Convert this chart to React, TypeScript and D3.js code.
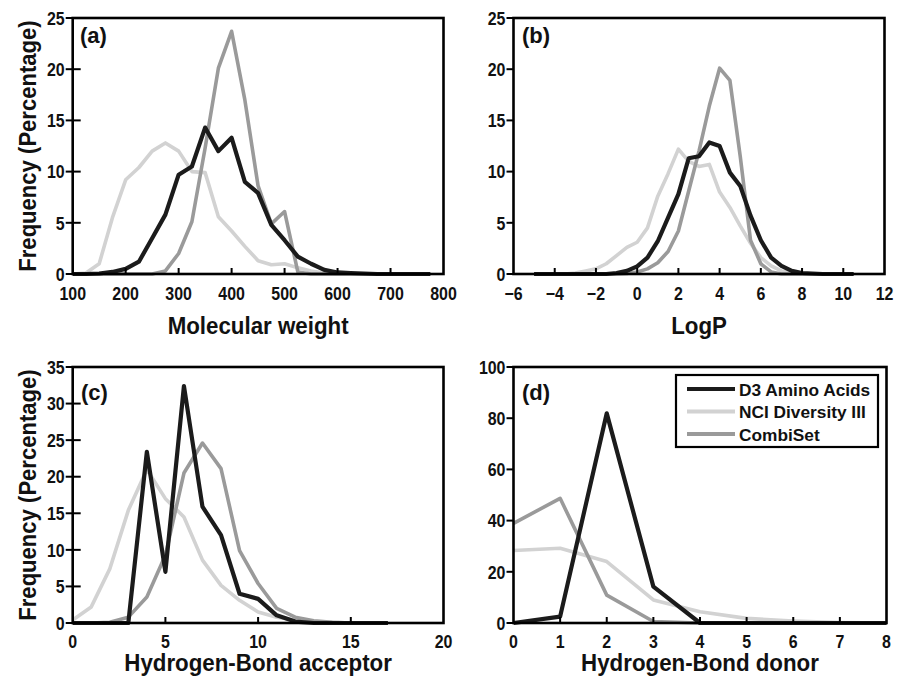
import React from "react";
import * as d3 from "d3";

// ---------- DATA ----------
const seriesNames = ["D3 Amino Acids", "NCI Diversity III", "CombiSet"];

const mwX = [100, 125, 150, 175, 200, 225, 250, 275, 300, 325, 350, 375, 400, 425, 450, 475, 500, 525, 550, 575, 600, 625, 650, 675, 700, 725, 750, 775];
const mwD3 = [0, 0, 0.05, 0.2, 0.5, 1.2, 3.5, 5.8, 9.7, 10.5, 14.3, 12.0, 13.3, 9.0, 7.9, 4.8, 3.3, 1.7, 1.0, 0.4, 0.15, 0.1, 0.05, 0, 0, 0, 0, 0];
const mwNCI = [0, 0.1, 1.0, 5.5, 9.2, 10.4, 12.0, 12.8, 12.0, 10.0, 9.9, 5.6, 4.2, 2.7, 1.3, 0.9, 1.0, 0.6, 0.3, 0.1, 0, 0, 0, 0, 0, 0, 0, 0];
const mwCombi = [0, 0, 0, 0, 0, 0, 0, 0.3, 2.0, 5.1, 12.3, 20.1, 23.7, 17.0, 8.6, 4.9, 6.1, 0.2, 0, 0, 0, 0, 0, 0, 0, 0, 0, 0];

const lpX = [-5, -4.5, -4, -3.5, -3, -2.5, -2, -1.5, -1, -0.5, 0, 0.5, 1, 1.5, 2, 2.5, 3, 3.5, 4, 4.5, 5, 5.5, 6, 6.5, 7, 7.5, 8, 8.5, 9, 9.5, 10, 10.5];
const lpD3 = [0, 0, 0, 0, 0, 0, 0, 0, 0.1, 0.3, 0.75, 1.6, 3.2, 5.5, 7.8, 11.3, 11.5, 12.85, 12.5, 9.9, 8.6, 5.7, 3.3, 1.6, 0.8, 0.3, 0.1, 0.05, 0, 0, 0, 0];
const lpNCI = [0, 0, 0, 0, 0.1, 0.3, 0.5, 1.0, 1.8, 2.6, 3.1, 4.5, 7.6, 9.8, 12.2, 11.0, 10.5, 10.7, 8.0, 6.5, 4.7, 3.0, 1.6, 0.8, 0.3, 0.1, 0, 0, 0, 0, 0, 0];
const lpCombi = [0, 0, 0, 0, 0, 0, 0, 0, 0, 0.05, 0.2, 0.5, 1.1, 2.2, 4.2, 8.1, 12.0, 16.4, 20.1, 18.9, 11.5, 3.3, 1.0, 0.2, 0, 0, 0, 0, 0, 0, 0, 0];

const hbaX = [0, 1, 2, 3, 4, 5, 6, 7, 8, 9, 10, 11, 12, 13, 14, 15, 16, 17];
const hbaD3 = [0, 0, 0, 0, 23.4, 7.0, 32.4, 15.9, 12.0, 4.0, 3.3, 1.05, 0.2, 0, 0, 0, 0, 0];
const hbaNCI = [0.4, 2.2, 7.4, 15.4, 21.0, 17.0, 14.5, 8.6, 5.15, 3.1, 1.5, 0.8, 0.4, 0.2, 0.1, 0, 0, 0];
const hbaCombi = [0, 0, 0.1, 0.8, 3.55, 9.25, 20.5, 24.6, 21.1, 9.9, 5.4, 2.0, 0.8, 0.3, 0.1, 0, 0, 0];

const hbdX = [0, 1, 2, 3, 4, 5, 6, 7, 8];
const hbdD3 = [0, 2.5, 81.9, 14.2, 0, 0, 0, 0, 0];
const hbdNCI = [28.3, 29.2, 24.0, 9.0, 4.4, 1.8, 0.8, 0.2, 0];
const hbdCombi = [38.9, 48.7, 10.9, 0.6, 0, 0, 0, 0, 0];

const mwTicks = [100, 200, 300, 400, 500, 600, 700, 800];
const lpTicks = [-6, -4, -2, 0, 2, 4, 6, 8, 10, 12];
const hbaTicks = [0, 5, 10, 15, 20];
const hbdTicks = [0, 1, 2, 3, 4, 5, 6, 7, 8];
const yTicks25 = [0, 5, 10, 15, 20, 25];
const yTicks35 = [0, 5, 10, 15, 20, 25, 30, 35];
const yTicks100 = [0, 20, 40, 60, 80, 100];

const yTitle = "Frequency (Percentage)";

// ---------- STYLE ----------
const COLORS = ["#1b1b1b", "#d2d2d2", "#9a9a9a"];
const WIDTHS = [4.2, 3.6, 3.6];
const SANS = "'Liberation Sans', Arial, sans-serif";

function NText({ x, y, size, sx, anchor, rotate, children }: any) {
  const tr = `translate(${x},${y})${rotate ? ` rotate(${rotate})` : ""} scale(${sx},1)`;
  return (
    <text transform={tr} textAnchor={anchor || "start"} fontFamily={SANS} fontWeight="bold" fontSize={size} fill="#111">
      {children}
    </text>
  );
}

const panels = [
  { label: "(a)", box: [72.7, 443.5, 18, 274], xd: [100, 800], yd: [0, 25], xt: mwTicks, yt: yTicks25,
    x: mwX, ys: [mwD3, mwNCI, mwCombi], title: "Molecular weight", tickY: 300, titleY: 334, cross: true, lab: [80, 43] },
  { label: "(b)", box: [513.5, 884.5, 18, 274], xd: [-6, 12], xt: lpTicks, yd: [0, 25], yt: yTicks25,
    x: lpX, ys: [lpD3, lpNCI, lpCombi], title: "LogP", tickY: 300, titleY: 334, cross: false, lab: [522, 43] },
  { label: "(c)", box: [72.7, 443.5, 367, 623], xd: [0, 20], xt: hbaTicks, yd: [0, 35], yt: yTicks35,
    x: hbaX, ys: [hbaD3, hbaNCI, hbaCombi], title: "Hydrogen-Bond acceptor", tickY: 648, titleY: 671, cross: true, lab: [81, 400] },
  { label: "(d)", box: [513.5, 886.5, 367, 623], xd: [0, 8], xt: hbdTicks, yd: [0, 100], yt: yTicks100,
    x: hbdX, ys: [hbdD3, hbdNCI, hbdCombi], title: "Hydrogen-Bond donor", tickY: 648, titleY: 671, cross: false, lab: [522, 400], legend: true },
];

const fmt = (v: number) => (v < 0 ? "\u2212" + Math.abs(v) : String(v));

function Panel({ p }: { p: any }) {
  const [x0, x1, y0, y1] = p.box;
  const xs = d3.scaleLinear().domain(p.xd).range([x0, x1]);
  const ys = d3.scaleLinear().domain(p.yd).range([y1, y0]);
  const line = d3.line<number>().x((_, i) => xs(p.x[i])).y((v) => ys(v));
  const order = [1, 2, 0];
  return (
    <g>
      {order.map((si) => (
        <path key={si} d={line(p.ys[si]) || ""} fill="none" stroke={COLORS[si]} strokeWidth={WIDTHS[si]} strokeLinejoin="round" />
      ))}
      <rect x={x0} y={y0} width={x1 - x0} height={y1 - y0} fill="none" stroke="#000" strokeWidth={2.6} />
      {p.xt.map((t: number, i: number) => (
        <g key={"xt" + i}>
          {i > 0 && i < p.xt.length - 1 && (
            <line x1={xs(t)} x2={xs(t)} y1={y1} y2={y1 - 6} stroke="#000" strokeWidth={2} />
          )}
          <NText x={xs(t)} y={p.tickY} size={19} sx={0.84} anchor="middle">
            {fmt(t)}
          </NText>
        </g>
      ))}
      {p.yt.map((t: number, i: number) => (
        <g key={"yt" + i}>
          <line x1={x0 - 7} x2={p.cross ? x0 + 8 : x0} y1={ys(t)} y2={ys(t)} stroke="#000" strokeWidth={2} />
          <NText x={x0 - 8} y={ys(t) + 6.7} size={19} sx={0.84} anchor="end">
            {t}
          </NText>
        </g>
      ))}
      <NText x={(x0 + x1) / 2} y={p.titleY} size={24} sx={0.93} anchor="middle">
        {p.title}
      </NText>
      <text x={p.lab[0]} y={p.lab[1]} fontFamily={SANS} fontWeight="bold" fontSize={22} fill="#111">
        {p.label}
      </text>
      {p.legend && (
        <g>
          <rect x={676} y={375} width={202} height={72} fill="#fff" stroke="#000" strokeWidth={2.2} />
          {seriesNames.map((n, i) => (
            <g key={n}>
              <line x1={687} x2={735} y1={389 + i * 22.5} y2={389 + i * 22.5} stroke={COLORS[i]} strokeWidth={4} />
              <text x={739} y={389 + i * 22.5 + 6.5} fontFamily={SANS} fontWeight="bold" fontSize={17.3} fill="#111">
                {n}
              </text>
            </g>
          ))}
        </g>
      )}
    </g>
  );
}

export default function App() {
  return (
    <svg width={897} height={676} style={{ position: "absolute", left: 0, top: 0, background: "#fff" }}>
      <rect x={0} y={0} width={897} height={676} fill="#fff" />
      {panels.map((p) => (
        <Panel key={p.label} p={p} />
      ))}
      <NText x={36} y={146} size={24} sx={0.92} anchor="middle" rotate={-90}>
        {yTitle}
      </NText>
      <NText x={36} y={495} size={24} sx={0.92} anchor="middle" rotate={-90}>
        {yTitle}
      </NText>
    </svg>
  );
}
